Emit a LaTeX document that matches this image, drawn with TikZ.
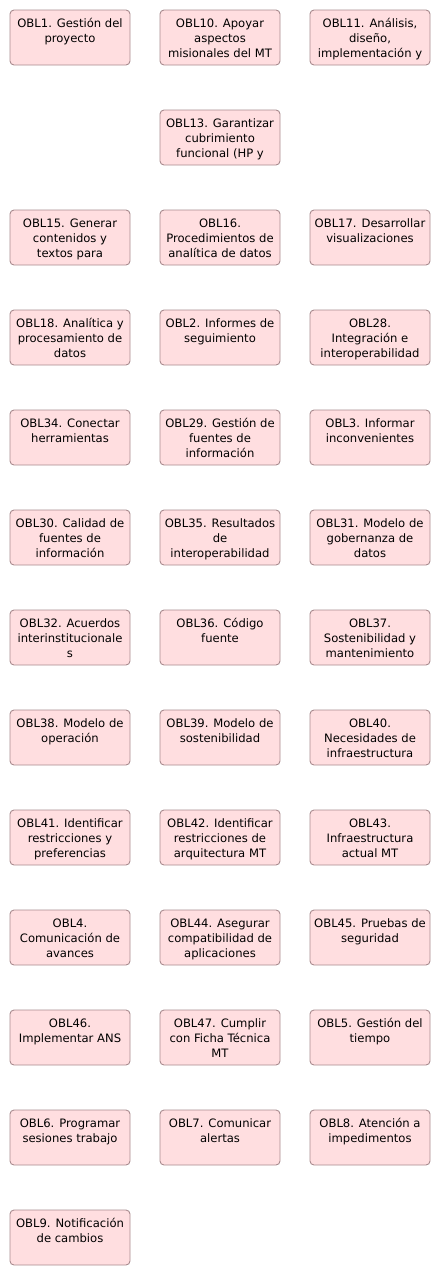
\documentclass[tikz,border=0pt]{standalone}
\usepackage{fontspec}
\setmainfont{DejaVu Sans}
\usepackage{tikz}

\definecolor{oblfill}{HTML}{FFDEE0}
\definecolor{oblline}{HTML}{A88A8E}

\newcommand{\obltxt}[1]{\parbox[c][55pt][t]{118pt}{\centering\rule{0pt}{17.5pt}#1}}

\tikzset{
  oblbox/.style={draw=oblline, fill=oblfill, line width=0.9pt, rounded corners=4pt,
    minimum width=120pt, minimum height=55pt, inner sep=0pt,
    font=\fontsize{11.6pt}{15pt}\selectfont}
}

\begin{document}
\begin{tikzpicture}[x=1pt,y=1pt]

            \useasboundingbox (0,0) rectangle (440,-1275);

            % fila 1
            \node[oblbox] (obl1) at (70,-37.5) {\obltxt{OBL1. Gestión del\\proyecto}};
            \node[oblbox] (obl10) at (220,-37.5) {\obltxt{OBL10. Apoyar\\aspectos\\misionales del MT}};
            \node[oblbox] (obl11) at (370,-37.5) {\obltxt{OBL11. Análisis,\\diseño,\\implementación y}};

            % fila 2
            \node[oblbox] (obl13) at (220,-137.5) {\obltxt{OBL13. Garantizar\\cubrimiento\\funcional (HP y}};

            % fila 3
            \node[oblbox] (obl15) at (70,-237.5) {\obltxt{OBL15. Generar\\contenidos y\\textos para}};
            \node[oblbox] (obl16) at (220,-237.5) {\obltxt{OBL16.\\Procedimientos de\\analítica de datos}};
            \node[oblbox] (obl17) at (370,-237.5) {\obltxt{OBL17. Desarrollar\\visualizaciones}};

            % fila 4
            \node[oblbox] (obl18) at (70,-337.5) {\obltxt{OBL18. Analítica y\\procesamiento de\\datos}};
            \node[oblbox] (obl2) at (220,-337.5) {\obltxt{OBL2. Informes de\\seguimiento}};
            \node[oblbox] (obl28) at (370,-337.5) {\obltxt{OBL28.\\Integración e\\interoperabilidad}};

            % fila 5
            \node[oblbox] (obl34) at (70,-437.5) {\obltxt{OBL34. Conectar\\herramientas}};
            \node[oblbox] (obl29) at (220,-437.5) {\obltxt{OBL29. Gestión de\\fuentes de\\información}};
            \node[oblbox] (obl3) at (370,-437.5) {\obltxt{OBL3. Informar\\inconvenientes}};

            % fila 6
            \node[oblbox] (obl30) at (70,-537.5) {\obltxt{OBL30. Calidad de\\fuentes de\\información}};
            \node[oblbox] (obl35) at (220,-537.5) {\obltxt{OBL35. Resultados\\de\\interoperabilidad}};
            \node[oblbox] (obl31) at (370,-537.5) {\obltxt{OBL31. Modelo de\\gobernanza de\\datos}};

            % fila 7
            \node[oblbox] (obl32) at (70,-637.5) {\obltxt{OBL32. Acuerdos\\interinstitucionale\\s}};
            \node[oblbox] (obl36) at (220,-637.5) {\obltxt{OBL36. Código\\fuente}};
            \node[oblbox] (obl37) at (370,-637.5) {\obltxt{OBL37.\\Sostenibilidad y\\mantenimiento}};

            % fila 8
            \node[oblbox] (obl38) at (70,-737.5) {\obltxt{OBL38. Modelo de\\operación}};
            \node[oblbox] (obl39) at (220,-737.5) {\obltxt{OBL39. Modelo de\\sostenibilidad}};
            \node[oblbox] (obl40) at (370,-737.5) {\obltxt{OBL40.\\Necesidades de\\infraestructura}};

            % fila 9
            \node[oblbox] (obl41) at (70,-837.5) {\obltxt{OBL41. Identificar\\restricciones y\\preferencias}};
            \node[oblbox] (obl42) at (220,-837.5) {\obltxt{OBL42. Identificar\\restricciones de\\arquitectura MT}};
            \node[oblbox] (obl43) at (370,-837.5) {\obltxt{OBL43.\\Infraestructura\\actual MT}};

            % fila 10
            \node[oblbox] (obl4) at (70,-937.5) {\obltxt{OBL4.\\Comunicación de\\avances}};
            \node[oblbox] (obl44) at (220,-937.5) {\obltxt{OBL44. Asegurar\\compatibilidad de\\aplicaciones}};
            \node[oblbox] (obl45) at (370,-937.5) {\obltxt{OBL45. Pruebas de\\seguridad}};

            % fila 11
            \node[oblbox] (obl46) at (70,-1037.5) {\obltxt{OBL46.\\Implementar ANS}};
            \node[oblbox] (obl47) at (220,-1037.5) {\obltxt{OBL47. Cumplir\\con Ficha Técnica\\MT}};
            \node[oblbox] (obl5) at (370,-1037.5) {\obltxt{OBL5. Gestión del\\tiempo}};

            % fila 12
            \node[oblbox] (obl6) at (70,-1137.5) {\obltxt{OBL6. Programar\\sesiones trabajo}};
            \node[oblbox] (obl7) at (220,-1137.5) {\obltxt{OBL7. Comunicar\\alertas}};
            \node[oblbox] (obl8) at (370,-1137.5) {\obltxt{OBL8. Atención a\\impedimentos}};

            % fila 13
            \node[oblbox] (obl9) at (70,-1237.5) {\obltxt{OBL9. Notificación\\de cambios}};

\end{tikzpicture}
\end{document}
